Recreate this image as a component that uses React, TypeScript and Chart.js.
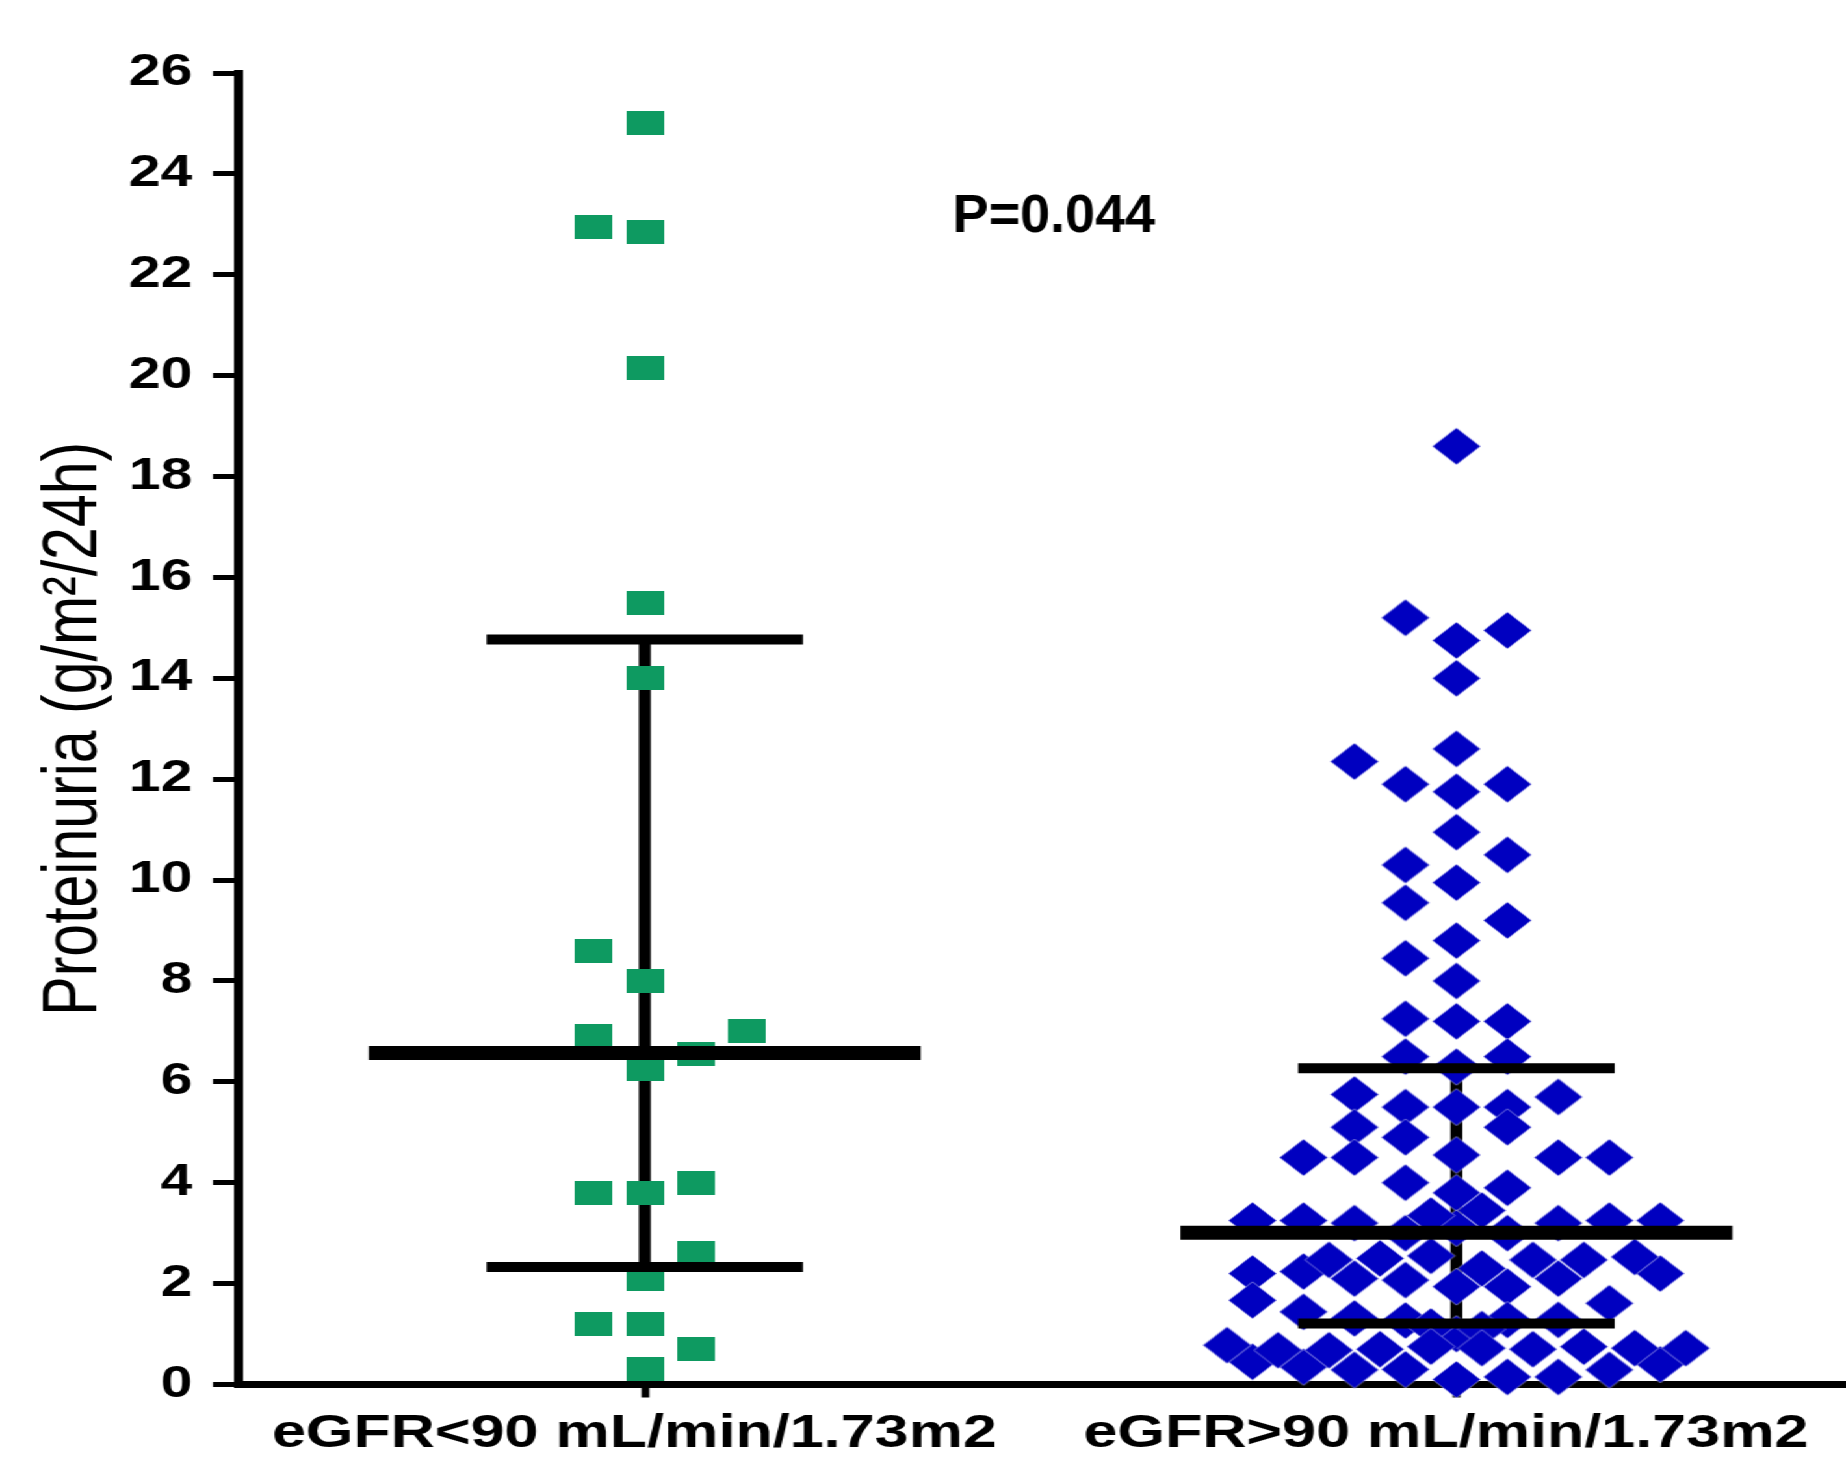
import React, { useEffect, useRef } from 'react';
import { Chart, registerables } from 'chart.js';

Chart.register(...registerables);

// ---------------- data ----------------
const CATEGORIES = ['eGFR<90 mL/min/1.73m2', 'eGFR>90 mL/min/1.73m2'];
const Y_MIN = 0;
const Y_MAX = 26;
const Y_STEP = 2;
const Y_TITLE = 'Proteinuria (g/m²/24h)';
const P_TEXT = 'P=0.044';

// group 1 (eGFR<90): values and beeswarm column (slot) of each point
const GREEN_VALUES = [25.0, 22.85, 20.15, 15.5, 14.0, 8.0, 6.25, 3.8, 2.1, 1.2, 0.3, 22.95, 8.6, 6.9, 3.8, 1.2, 6.55, 4.0, 2.6, 0.7, 7.0];
const GREEN_SLOTS = [0, 0, 0, 0, 0, 0, 0, 0, 0, 0, 0, -1, -1, -1, -1, -1, 1, 1, 1, 1, 2];

// group 2 (eGFR>90)
const BLUE_VALUES = [
  18.6, 14.75, 14.0, 12.6, 11.75, 10.95, 9.95, 8.8, 8.0, 7.2, 6.3, 5.5, 4.55, 3.8, 3.1, 1.94, 1.0, 0.1,
  15.2, 11.9, 10.3, 9.55, 8.45, 7.25, 6.5, 5.5, 4.9, 4.0, 3.0, 2.07, 1.27, 0.3,
  14.95, 11.9, 10.5, 9.2, 7.2, 6.5, 5.5, 5.1, 3.9, 3.0, 1.94, 1.28, 0.15,
  12.35, 5.75, 5.1, 4.5, 3.2, 2.1, 1.31, 0.29,
  5.7, 4.5, 3.2, 2.1, 1.28, 0.15,
  4.5, 3.25, 2.24, 1.44, 0.35,
  4.5, 3.25, 1.61, 0.29,
  3.25, 2.2, 1.67, 0.45,
  3.25, 2.2, 0.4,
  3.35, 2.55, 1.15, 0.75,
  3.45, 2.3, 1.1, 0.72,
  2.5, 0.7,
  2.47, 0.7,
  2.47, 0.68,
  2.47, 0.75,
  0.68,
  2.53, 0.72,
  0.78,
  0.72,
];
const BLUE_SLOTS = [
  0, 0, 0, 0, 0, 0, 0, 0, 0, 0, 0, 0, 0, 0, 0, 0, 0, 0,
  -1, -1, -1, -1, -1, -1, -1, -1, -1, -1, -1, -1, -1, -1,
  1, 1, 1, 1, 1, 1, 1, 1, 1, 1, 1, 1, 1,
  -2, -2, -2, -2, -2, -2, -2, -2,
  2, 2, 2, 2, 2, 2,
  -3, -3, -3, -3, -3,
  3, 3, 3, 3,
  -4, -4, -4, -4,
  4, 4, 4,
  -0.5, -0.5, -0.5, -0.5,
  0.5, 0.5, 0.5, 0.5,
  -1.5, -1.5,
  1.5, 1.5,
  -2.5, -2.5,
  2.5, 2.5,
  -3.5,
  3.5, 3.5,
  -4.5,
  4.5,
];

// summary lines (central value and error bar ends) per group
const CENTER_VALUES = [6.57, 3.01];
const UPPER_VALUES = [14.77, 6.27];
const LOWER_VALUES = [2.33, 1.21];

// ---------------- layout / style constants ----------------
const STRETCH = 1.3; // the original figure is stretched horizontally
const PAGE_W = 1846;
const PAGE_H = 1463;
const SLOT_STEP = 0.0628; // x units between beeswarm columns
const CENTER_HALF = 0.34;
const CAP_HALF = 0.195;
const P_POS = { x: 1.504, y: 23.15 };
const GREEN = '#0e9a61';
const BLUE = '#0000c0';
const FONT = '"Liberation Sans", Arial, Helvetica, sans-serif';

function makeRect(w: number, h: number, color: string) {
  const c = document.createElement('canvas');
  c.width = w;
  c.height = h;
  const g = c.getContext('2d')!;
  g.fillStyle = color;
  g.fillRect(0, 0, w, h);
  return c;
}

function makeDiamond(w: number, h: number, color: string) {
  const c = document.createElement('canvas');
  c.width = w + 2;
  c.height = h + 2;
  const g = c.getContext('2d')!;
  g.beginPath();
  g.moveTo((w + 2) / 2, 1);
  g.lineTo(w + 1, (h + 2) / 2);
  g.lineTo((w + 2) / 2, h + 1);
  g.lineTo(1, (h + 2) / 2);
  g.closePath();
  g.fillStyle = color;
  g.fill();
  g.strokeStyle = 'rgba(255,255,255,0.5)';
  g.lineWidth = 1;
  g.stroke();
  return c;
}

const pLabelPlugin = {
  id: 'pLabel',
  afterDatasetsDraw(chart: any) {
    const { ctx, scales } = chart;
    const px = scales.x.getPixelForValue(P_POS.x);
    const py = scales.y.getPixelForValue(P_POS.y);
    ctx.save();
    ctx.translate(px, py);
    ctx.scale(1 / STRETCH, 1);
    ctx.font = `bold 54px ${FONT}`;
    ctx.fillStyle = '#000';
    ctx.textAlign = 'center';
    ctx.textBaseline = 'middle';
    ctx.fillText(P_TEXT, 0, 0);
    ctx.restore();
  },
};

export default function App() {
  const canvasRef = useRef<HTMLCanvasElement>(null);

  useEffect(() => {
    document.body.style.margin = '0';
    document.documentElement.style.overflow = 'hidden';
    const canvas = canvasRef.current;
    if (!canvas) return;

    const greenPts = GREEN_VALUES.map((v, i) => ({ x: 1 + GREEN_SLOTS[i] * SLOT_STEP, y: v }));
    const bluePts = BLUE_VALUES.map((v, i) => ({ x: 2 + BLUE_SLOTS[i] * SLOT_STEP, y: v }));

    const rectImg = makeRect(29, 24, GREEN);
    const diamondImg = makeDiamond(37, 37, BLUE);

    const lineDs = (x0: number, x1: number, y0: number, y1: number, width: number, order: number) => ({
      type: 'line' as const,
      data: [
        { x: x0, y: y0 },
        { x: x1, y: y1 },
      ],
      borderColor: '#000',
      borderWidth: width,
      borderCapStyle: 'butt' as const,
      pointRadius: 0,
      fill: false,
      tension: 0,
      order,
      clip: false as const,
    });

    const summary: any[] = [];
    CENTER_VALUES.forEach((c, g) => {
      const cx = g + 1;
      summary.push(lineDs(cx, cx, LOWER_VALUES[g], UPPER_VALUES[g], 9.2, 3));
      summary.push(lineDs(cx - CENTER_HALF, cx + CENTER_HALF, c, c, 14, 0));
      summary.push(lineDs(cx - CAP_HALF, cx + CAP_HALF, UPPER_VALUES[g], UPPER_VALUES[g], 10, 0));
      summary.push(lineDs(cx - CAP_HALF, cx + CAP_HALF, LOWER_VALUES[g], LOWER_VALUES[g], 10, 0));
    });

    const chart = new Chart(canvas, {
      type: 'scatter',
      data: {
        datasets: [
          ...summary,
          {
            label: CATEGORIES[0],
            data: greenPts,
            pointStyle: rectImg,
            pointRadius: 16,
            backgroundColor: GREEN,
            borderColor: GREEN,
            order: 1,
            clip: false,
          },
          {
            label: CATEGORIES[1],
            data: bluePts,
            pointStyle: diamondImg,
            pointRadius: 19,
            backgroundColor: BLUE,
            borderColor: BLUE,
            order: 2,
            clip: false,
          },
        ],
      },
      options: {
        animation: false,
        responsive: true,
        maintainAspectRatio: false,
        layout: { autoPadding: false, padding: { top: 73, left: 0, right: 0, bottom: 0 } },
        plugins: {
          legend: { display: false },
          tooltip: { enabled: false },
        },
        scales: {
          x: {
            type: 'linear',
            min: 0.5,
            max: 2.48,
            afterBuildTicks: (scale: any) => {
              scale.ticks = CATEGORIES.map((_, i) => ({ value: i + 1 }));
            },
            afterFit: (scale: any) => {
              scale.height = PAGE_H - 1384.5;
              scale.paddingLeft = 0;
              scale.paddingRight = 0;
            },
            ticks: {
              autoSkip: false,
              maxRotation: 0,
              minRotation: 0,
              padding: 8,
              labelOffset: -8,
              color: '#000',
              font: { family: FONT, size: 47, weight: 'bold' },
              callback: (v: any) => CATEGORIES[Math.round(Number(v)) - 1] ?? '',
            },
            grid: {
              drawOnChartArea: false,
              drawTicks: true,
              tickLength: 13,
              tickWidth: 6,
              tickColor: '#000',
            },
            border: { display: true, color: '#000', width: 7 },
          },
          y: {
            type: 'linear',
            min: Y_MIN,
            max: Y_MAX,
            afterFit: (scale: any) => {
              scale.width = 239 / STRETCH;
            },
            ticks: {
              stepSize: Y_STEP,
              padding: 16,
              color: '#000',
              font: { family: FONT, size: 44, weight: 'bold' },
            },
            grid: {
              drawOnChartArea: false,
              drawTicks: true,
              tickLength: 20,
              tickWidth: 5,
              tickColor: '#000',
            },
            border: { display: true, color: '#000', width: 7 },
            title: {
              display: true,
              text: Y_TITLE,
              color: '#000',
              font: { family: FONT, size: 59, weight: 'normal' },
              padding: { top: 22, bottom: 0 },
            },
          },
        },
      },
      plugins: [pLabelPlugin],
    } as any);

    return () => chart.destroy();
  }, []);

  return (
    <div
      style={{
        position: 'absolute',
        left: 0,
        top: 0,
        width: PAGE_W / STRETCH,
        height: PAGE_H,
        transform: `scaleX(${STRETCH})`,
        transformOrigin: '0 0',
        background: '#fff',
      }}
    >
      <canvas ref={canvasRef} />
    </div>
  );
}
